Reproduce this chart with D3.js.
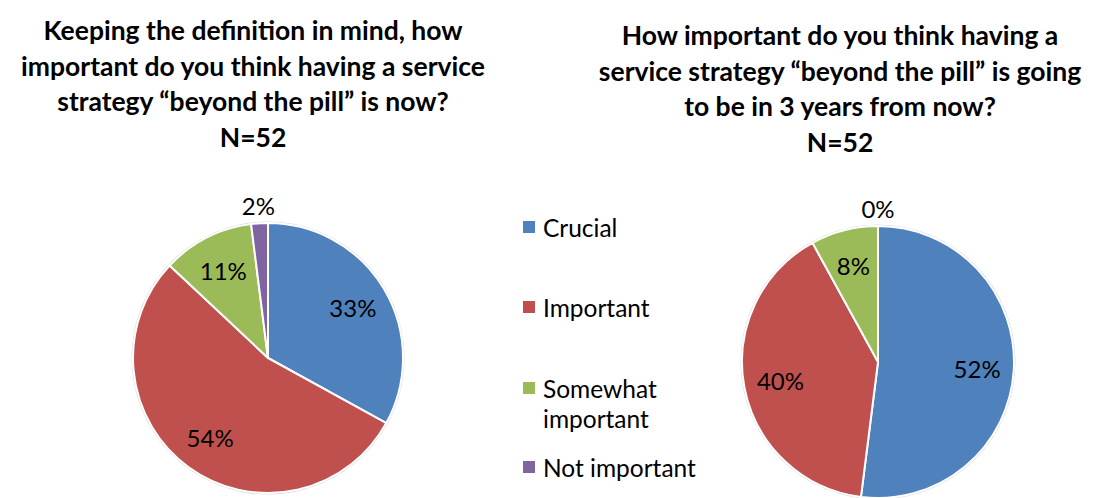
<!DOCTYPE html>
<html>
<head>
<meta charset="utf-8">
<script src="https://cdn.jsdelivr.net/npm/d3@7"></script>
<style>
  html, body { margin: 0; padding: 0; background: #ffffff; }
  svg { display: block; }
  text { font-family: Lato, "Open Sans", sans-serif; fill: #000; }
</style>
</head>
<body>
<svg id="chart" width="1116" height="498"></svg>
<script>
// Response categories (shared legend)
const categories = ["Crucial", "Important", "Somewhat important", "Not important"];
const categoryColors = ["#4F81BD", "#C0504D", "#9BBB59", "#8064A2"];

// Share of respondents (%) — today
const nowValues = [33, 54, 11, 2];
// Share of respondents (%) — in 3 years
const futureValues = [52, 40, 8, 0];

const nowTitle = [
  "Keeping the definition in mind, how",
  "important do you think having a service",
  "strategy \u201cbeyond the pill\u201d is now?",
  "N=52"
];
const futureTitle = [
  "How important do you think having a",
  "service strategy \u201cbeyond the pill\u201d is going",
  "to be in 3 years from now?",
  "N=52"
];

const svg = d3.select("#chart");
const color = d3.scaleOrdinal().domain(categories).range(categoryColors);

function drawTitle(lines, cx, y0) {
  const t = svg.append("text")
    .attr("text-anchor", "middle")
    .style("font-weight", "700")
    .style("font-size", "26.5px");
  lines.forEach((line, i) => {
    t.append("tspan").attr("x", cx).attr("y", y0 + i * 35.5).text(line);
  });
}

function drawPie(values, cx, cy, r) {
  const data = categories.map((c, i) => ({ cat: c, value: values[i] }));
  const pie = d3.pie().sort(null).value(d => d.value).startAngle(0).endAngle(2 * Math.PI);
  const arcs = pie(data);
  const arc = d3.arc().innerRadius(0).outerRadius(r);
  const inLabel = d3.arc().innerRadius(r * 0.73).outerRadius(r * 0.73);
  const outLabel = d3.arc().innerRadius(r * 1.13).outerRadius(r * 1.13);

  const g = svg.append("g").attr("transform", `translate(${cx},${cy})`);

  // soft outer rim
  g.append("circle").attr("r", r + 1.5).attr("fill", "#d8d8d8");

  g.selectAll("path.slice")
    .data(arcs)
    .join("path")
    .attr("class", "slice")
    .attr("d", arc)
    .attr("fill", d => color(d.data.cat))
    .attr("stroke", "#ffffff")
    .attr("stroke-width", 2)
    .attr("stroke-linejoin", "round");

  g.selectAll("text.val")
    .data(arcs)
    .join("text")
    .attr("class", "val")
    .attr("text-anchor", "middle")
    .attr("dominant-baseline", "central")
    .style("font-size", "24px")
    .attr("transform", d => {
      const small = d.data.value < 5;
      const p = (small ? outLabel : inLabel).centroid(d);
      return `translate(${p[0]},${p[1]})`;
    })
    .text(d => d.data.value + "%");
}

drawTitle(nowTitle, 253, 40);
drawTitle(futureTitle, 840, 45);

drawPie(nowValues, 268, 358, 135);
drawPie(futureValues, 878, 362, 136);

// Legend
const legendY = [227, 307, 388, 467];
const legend = svg.append("g");
categories.forEach((c, i) => {
  const row = legend.append("g").attr("transform", `translate(523,${legendY[i]})`);
  row.append("rect")
    .attr("x", 0).attr("y", -6)
    .attr("width", 12).attr("height", 12)
    .attr("fill", color(c));
  const t = row.append("text")
    .attr("x", 20)
    .attr("dominant-baseline", "central")
    .style("font-size", "24.5px");
  if (c === "Somewhat important") {
    t.append("tspan").attr("x", 20).attr("dy", 0).text("Somewhat");
    t.append("tspan").attr("x", 20).attr("dy", 30).text("important");
  } else {
    t.text(c);
  }
});
</script>
</body>
</html>
